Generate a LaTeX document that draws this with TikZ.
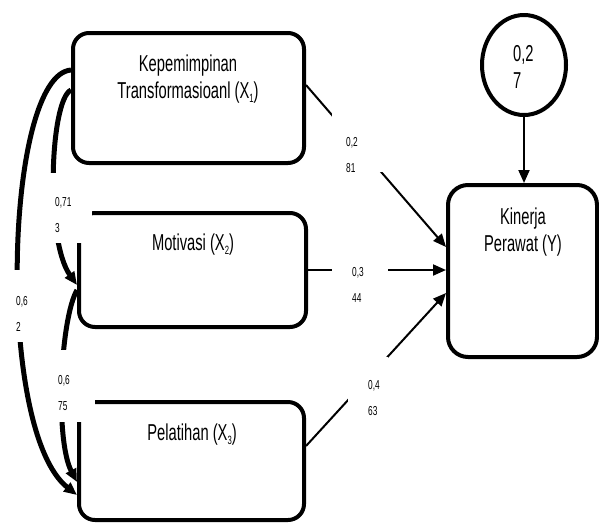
\documentclass[tikz,border=0pt]{standalone}
\usepackage{fontspec}
\setmainfont{Liberation Sans}[FakeStretch=0.64]
\usetikzlibrary{arrows.meta,shapes.geometric}
\newcommand{\lsub}[1]{\raisebox{-0.3ex}{\fontsize{12}{12}\selectfont #1}}
\begin{document}
\begin{tikzpicture}[x=1pt,y=-1pt,
  box/.style={draw, line width=4pt, rounded corners=16pt, inner sep=0pt},
  bigtxt/.style={font=\fontsize{23}{27}\selectfont, align=center, inner sep=0pt},
  coef/.style={font=\fontsize{13}{26}\selectfont, align=left, inner sep=0pt, anchor=west},
  pathArr/.style={line width=2pt, -{Triangle[length=13pt,width=11pt]}},
  corr/.style={line width=5pt, -{Triangle[length=13pt,width=11pt]}},
  mask/.style={fill=white}
]
\useasboundingbox (0,0) rectangle (599,523);
% boxes
\node[box, minimum width=231pt, minimum height=130pt] (x1) at (188.5,98) {};
\node[box, minimum width=227pt, minimum height=114pt] (x2) at (192.5,270) {};
\node[box, minimum width=225pt, minimum height=118pt] (x3) at (191.5,461) {};
\node[box, rounded corners=20pt, minimum width=149pt, minimum height=172pt] (y) at (522.5,271) {};
\node[draw, ellipse, line width=4pt, minimum width=84pt, minimum height=100pt, inner sep=0pt] (c) at (524,65) {};
% paths to Y
\draw[pathArr] (c.south) -- (c.south |- y.north);
\draw[pathArr] (x1.east |- 0,85) -- (y.west |- 0,247);
\draw[pathArr] (x2.east) -- (y.west |- x2.east);
\draw[pathArr] (x3.east |- 0,446) -- (y.west |- 0,293);
% correlations
\draw[corr] (x1.west |- 0,70) .. controls (5,75) and (-5,430) .. (x3.west |- 0,495);
\draw[corr] (x1.west |- 0,90) .. controls (50,100) and (45,240) .. (x2.west |- 0,285);
\draw[corr] (x2.west |- 0,290) .. controls (60,320) and (55,440) .. (x3.west |- 0,482);
% label masks
\fill[mask] (45,173) rectangle (92,243);
\fill[mask] (5,270) rectangle (38,342);
\fill[mask] (45,350) rectangle (95,422);
\fill[mask] (332,112) rectangle (385,172);
\fill[mask] (332,255) rectangle (388,312);
\fill[mask] (348,357) rectangle (388,402);
% coefficient labels
\node[coef] (l1) at (55,215) {0,71\\3};
\node[coef] (l2) at (16,313.5) {0,6\\2};
\node[coef] (l3) at (58,393.5) {0,6\\75};
\node[coef] (l4) at (346,155.5) {0,2\\81};
\node[coef] (l5) at (352,284.5) {0,3\\44};
\node[coef] (l6) at (368,398.5) {0,4\\63};
% texts
\node[bigtxt] (x1t) at (188,79.5) {Kepemimpinan\\Transformasioanl (X\lsub{1})};
\node[bigtxt] (x2t) at (193,245) {Motivasi (X\lsub{2})};
\node[bigtxt] (x3t) at (192,435) {Pelatihan (X\lsub{3})};
\node[bigtxt] (yt) at (523,232.5) {Kinerja\\Perawat (Y)};
\node[bigtxt, align=left, anchor=west] (ct) at (513,66.5) {0,2\\7};
\end{tikzpicture}
\end{document}
